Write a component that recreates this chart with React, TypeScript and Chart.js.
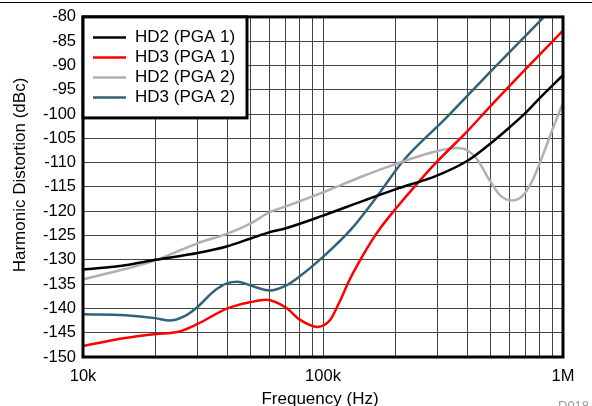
import React, { useEffect, useRef } from "react";
import { Chart, registerables } from "chart.js";

Chart.register(...registerables);

const FONT = "'Liberation Sans', Arial, Helvetica, sans-serif";

const seriesLabels = ["HD2 (PGA 1)", "HD3 (PGA 1)", "HD2 (PGA 2)", "HD3 (PGA 2)"];
const seriesColors = ["#000000", "#ff0000", "#b0b0b0", "#33617a"];

const xGridValues = [
  10000, 20000, 30000, 40000, 50000, 60000, 70000, 80000, 90000,
  100000, 200000, 300000, 400000, 500000, 600000, 700000, 800000, 900000,
  1000000,
];
const xTickLabels = [
  "10k", "", "", "", "", "", "", "", "",
  "100k", "", "", "", "", "", "", "", "",
  "1M",
];

const hd2Pga1Freq = [10000, 15000, 20000, 30000, 40000, 50000, 60000, 70000, 100000, 150000, 200000, 300000, 400000, 500000, 600000, 700000, 800000, 900000, 1000000];
const hd2Pga1Values = [-132, -131.1, -130, -128.6, -127.2, -125.6, -124.3, -123.5, -120.9, -117.7, -115.5, -112.6, -109.6, -106, -102.7, -99.7, -96.7, -94.2, -92];

const hd3Pga1Freq = [10000, 15000, 20000, 25000, 30000, 40000, 50000, 58000, 70000, 80000, 95000, 107000, 115000, 130000, 145000, 160000, 175000, 200000, 250000, 300000, 400000, 500000, 700000, 1000000];
const hd3Pga1Values = [-147.7, -146.1, -145.3, -144.8, -143.2, -140, -138.7, -138.2, -139.8, -142.3, -143.8, -142.4, -139.5, -133.8, -129.5, -126, -123.2, -119.6, -114, -109.7, -103.5, -98.3, -90.7, -82.8];

const hd2Pga2Freq = [10000, 15000, 20000, 30000, 40000, 50000, 60000, 70000, 100000, 150000, 200000, 300000, 360000, 400000, 437000, 496000, 546000, 611000, 683000, 752000, 828000, 911000, 1000000];
const hd2Pga2Values = [-134, -131.9, -130.1, -126.6, -124.6, -122.5, -120.2, -119.0, -116.1, -112.6, -110.3, -107.6, -107, -107.5, -109.2, -113.7, -116.7, -117.8, -116.7, -113.3, -108.2, -102.7, -97.7];

const hd3Pga2Freq = [10000, 15000, 20000, 23000, 26500, 30000, 35000, 40000, 44000, 50000, 60000, 70000, 80000, 100000, 130000, 167000, 216000, 326000, 500000, 1000000];
const hd3Pga2Values = [-141.2, -141.4, -142, -142.5, -141.6, -139.7, -136.5, -134.8, -134.5, -135.3, -136.3, -135.3, -133.4, -129.4, -123.9, -117.1, -109.6, -100.8, -91.2, -76];

const seriesFreqs = [hd2Pga1Freq, hd3Pga1Freq, hd2Pga2Freq, hd3Pga2Freq];
const seriesValues = [hd2Pga1Values, hd3Pga1Values, hd2Pga2Values, hd3Pga2Values];

const yAxisTitle = "Harmonic Distortion (dBc)";
const xAxisTitle = "Frequency (Hz)";
const figureCode = "D018";

const decorPlugin = {
  id: "decor",
  afterDraw(chart: any) {
    const { ctx, chartArea: a, width } = chart;
    ctx.save();
    // top rule
    ctx.strokeStyle = "#000";
    ctx.lineWidth = 1;
    ctx.beginPath();
    ctx.moveTo(0, 2.5);
    ctx.lineTo(width, 2.5);
    ctx.stroke();
    // plot frame
    ctx.lineWidth = 3;
    ctx.strokeRect(a.left, a.top, a.right - a.left, a.bottom - a.top);
    // legend box
    const lx = a.left;
    const ly = a.top;
    const lw = 164;
    const lh = 101;
    ctx.fillStyle = "#fff";
    ctx.fillRect(lx, ly, lw, lh);
    ctx.strokeStyle = "#000";
    ctx.lineWidth = 3;
    ctx.strokeRect(lx, ly, lw, lh);
    ctx.font = `17px ${FONT}`;
    ctx.textBaseline = "middle";
    ctx.textAlign = "left";
    chart.data.datasets.forEach((ds: any, i: number) => {
      const y = ly + 20.7 + i * 20;
      ctx.strokeStyle = ds.borderColor;
      ctx.lineWidth = 2.5;
      ctx.beginPath();
      ctx.moveTo(lx + 10, y);
      ctx.lineTo(lx + 43, y);
      ctx.stroke();
      ctx.fillStyle = "#000";
      ctx.fillText(ds.label, lx + 52, y);
    });
    // axis titles
    ctx.fillStyle = "#000";
    ctx.font = `17px ${FONT}`;
    ctx.textAlign = "center";
    ctx.textBaseline = "middle";
    ctx.fillText(xAxisTitle, 320, 399);
    ctx.save();
    ctx.translate(20, 175);
    ctx.rotate(-Math.PI / 2);
    ctx.fillText(yAxisTitle, 0, 0);
    ctx.restore();
    // figure code
    ctx.fillStyle = "#999";
    ctx.font = `13px ${FONT}`;
    ctx.textAlign = "left";
    ctx.textBaseline = "top";
    ctx.fillText(figureCode, 558, 400);
    ctx.restore();
  },
};

export default function App() {
  const canvasRef = useRef<HTMLCanvasElement | null>(null);

  useEffect(() => {
    if (!canvasRef.current) return;
    const datasets = seriesLabels.map((label, i) => ({
      label,
      data: seriesFreqs[i].map((f, j) => ({ x: f, y: seriesValues[i][j] })),
      borderColor: seriesColors[i],
      backgroundColor: seriesColors[i],
      borderWidth: 2.5,
      pointRadius: 0,
      cubicInterpolationMode: "monotone" as const,
      fill: false,
    }));
    const chart = new Chart(canvasRef.current, {
      type: "line",
      data: { datasets },
      options: {
        responsive: true,
        maintainAspectRatio: false,
        animation: false,
        layout: { padding: { left: 0, right: 29, top: 16, bottom: 0 } },
        plugins: { legend: { display: false }, tooltip: { enabled: false } },
        scales: {
          x: {
            type: "logarithmic",
            min: 10000,
            max: 1000000,
            afterBuildTicks: (axis: any) => {
              axis.ticks = xGridValues.map((v) => ({ value: v }));
            },
            afterFit: (axis: any) => {
              axis.height = 49;
            },
            grid: { color: "#444", lineWidth: 1, drawTicks: false },
            border: { display: false },
            ticks: {
              autoSkip: false,
              maxRotation: 0,
              minRotation: 0,
              padding: 10,
              color: "#000",
              font: { family: FONT, size: 16.5 },
              callback: (v: any) => {
                const idx = xGridValues.indexOf(Number(v));
                return idx >= 0 ? xTickLabels[idx] : "";
              },
            },
          },
          y: {
            type: "linear",
            min: -150,
            max: -80,
            afterFit: (axis: any) => {
              axis.width = 83;
            },
            grid: { color: "#444", lineWidth: 1, drawTicks: false },
            border: { display: false },
            ticks: {
              stepSize: 5,
              padding: 7,
              color: "#000",
              font: { family: FONT, size: 16.5 },
            },
          },
        },
      },
      plugins: [decorPlugin],
    });
    return () => chart.destroy();
  }, []);

  return (
    <div style={{ position: "absolute", left: 0, top: 0, width: 592, height: 406, background: "#fff" }}>
      <canvas ref={canvasRef} />
    </div>
  );
}
